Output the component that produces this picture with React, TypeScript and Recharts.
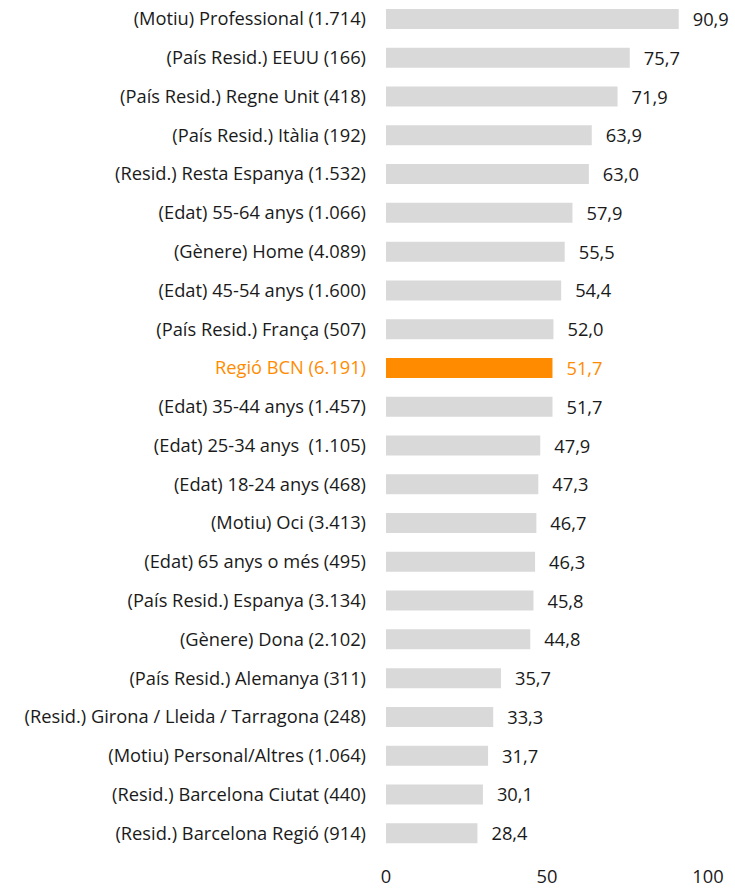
import { Bar, BarChart, Cell, LabelList, XAxis, YAxis } from "recharts"

const categories = [
  "(Motiu) Professional (1.714)",
  "(País Resid.) EEUU (166)",
  "(País Resid.) Regne Unit (418)",
  "(País Resid.) Itàlia (192)",
  "(Resid.) Resta Espanya (1.532)",
  "(Edat) 55-64 anys (1.066)",
  "(Gènere) Home (4.089)",
  "(Edat) 45-54 anys (1.600)",
  "(País Resid.) França (507)",
  "Regió BCN (6.191)",
  "(Edat) 35-44 anys (1.457)",
  "(Edat) 25-34 anys  (1.105)",
  "(Edat) 18-24 anys (468)",
  "(Motiu) Oci (3.413)",
  "(Edat) 65 anys o més (495)",
  "(País Resid.) Espanya (3.134)",
  "(Gènere) Dona (2.102)",
  "(País Resid.) Alemanya (311)",
  "(Resid.) Girona / Lleida / Tarragona (248)",
  "(Motiu) Personal/Altres (1.064)",
  "(Resid.) Barcelona Ciutat (440)",
  "(Resid.) Barcelona Regió (914)",
]

const values = [
  90.9, 75.7, 71.9, 63.9, 63.0, 57.9, 55.5, 54.4, 52.0, 51.7, 51.7, 47.9, 47.3,
  46.7, 46.3, 45.8, 44.8, 35.7, 33.3, 31.7, 30.1, 28.4,
]

const xTicks = [0, 50, 100]
const highlight = "Regió BCN (6.191)"

const GRAY = "#d9d9d9"
const ORANGE = "#ff8c00"
const TEXT = "#1a1a1a"
const FONT = "'Open Sans', sans-serif"
const FS = 18.3

const data = categories.map((name, i) => ({ name, value: values[i] }))

function fmt(v: number) {
  return v.toFixed(1).replace(".", ",")
}

function CategoryTick(props: any) {
  const { x, y, payload } = props
  const hl = payload.value === highlight
  return (
    <text
      x={x}
      y={y}
      dy={6}
      textAnchor="end"
      fontSize={FS}
      fontFamily={FONT}
      fill={hl ? ORANGE : TEXT}
      style={{ whiteSpace: "pre" }}
    >
      {payload.value}
    </text>
  )
}

function ValueLabel(props: any) {
  const { x, y, width, height, value, index } = props
  const hl = categories[index] === highlight
  return (
    <text
      x={x + width + 14}
      y={y + height / 2}
      dy={7}
      fontSize={FS}
      fontFamily={FONT}
      fill={hl ? ORANGE : TEXT}
    >
      {fmt(value)}
    </text>
  )
}

export default function App() {
  return (
    <div style={{ position: "absolute", left: 0, top: 0, background: "#fff" }}>
      <BarChart
        width={735}
        height={890}
        data={data}
        layout="vertical"
        margin={{ top: 0, right: 27, left: 0, bottom: 7 }}
        barSize={20}
      >
        <XAxis
          type="number"
          domain={[0, 100]}
          ticks={xTicks}
          axisLine={false}
          tickLine={false}
          tickMargin={11}
          height={30}
          tick={{ fontSize: FS, fontFamily: FONT, fill: TEXT }}
        />
        <YAxis
          type="category"
          dataKey="name"
          width={386}
          axisLine={false}
          tickLine={false}
          interval={0}
          tick={<CategoryTick />}
          tickMargin={14}
        />
        <Bar dataKey="value" isAnimationActive={false}>
          {data.map((d) => (
            <Cell key={d.name} fill={d.name === highlight ? ORANGE : GRAY} />
          ))}
          <LabelList dataKey="value" content={<ValueLabel />} />
        </Bar>
      </BarChart>
    </div>
  )
}
